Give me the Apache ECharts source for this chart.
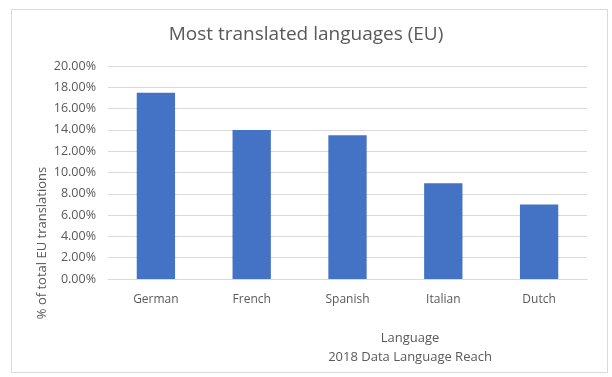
<!DOCTYPE html>
<html>
<head>
    <meta charset="utf-8">
    <title>Most translated languages (EU)</title>
    <script src="https://cdn.jsdelivr.net/npm/echarts@6/dist/echarts.min.js"></script>
    <style>
        html, body { margin: 0; padding: 0; background: #fff; }
        #container { width: 612px; height: 377px; }
    </style>
</head>
<body>
<div id="container"></div>
<script>
    // data
    var languages = ['German', 'French', 'Spanish', 'Italian', 'Dutch'];
    var sharePct = [17.5, 14.0, 13.5, 9.0, 7.0];
    var yTicks = [0, 2, 4, 6, 8, 10, 12, 14, 16, 18, 20];

    var textColor = '#595959';
    var lineColor = '#d9d9d9';
    var fontName = 'Open Sans';

    var myChart = echarts.init(document.getElementById('container'));

    var option = {
        backgroundColor: '#fff',
        animation: false,
        title: {
            text: 'Most translated languages (EU)',
            left: 'center',
            top: 20,
            textStyle: { color: textColor, fontSize: 19, fontWeight: 'normal', fontFamily: fontName }
        },
        grid: { left: 108, right: 25, top: 66, bottom: 98 },
        xAxis: {
            type: 'category',
            data: languages,
            axisLine: { lineStyle: { color: lineColor } },
            axisTick: { show: false },
            axisLabel: { color: textColor, fontSize: 12, fontFamily: fontName, margin: 15 }
        },
        yAxis: {
            type: 'value',
            min: yTicks[0],
            max: yTicks[yTicks.length - 1],
            interval: yTicks[1] - yTicks[0],
            axisLine: { show: false },
            axisTick: { show: false },
            splitLine: { lineStyle: { color: lineColor } },
            axisLabel: {
                color: textColor, fontSize: 12.5, fontFamily: fontName, margin: 12,
                formatter: function (v) { return v.toFixed(2) + '%'; }
            }
        },
        series: [{
            type: 'bar',
            data: sharePct,
            barWidth: '40%',
            itemStyle: { color: '#4472C4' }
        }],
        graphic: [
            {
                type: 'rect', left: 9, top: 7, silent: true,
                shape: { width: 596, height: 363 },
                style: { fill: 'none', stroke: lineColor, lineWidth: 1 }
            },
            {
                type: 'text', x: 42, y: 243, rotation: Math.PI / 2,
                style: {
                    text: '% of total EU translations', fill: textColor,
                    font: '13px "Open Sans"', align: 'center', verticalAlign: 'middle'
                }
            },
            {
                type: 'text', x: 410, y: 338,
                style: {
                    text: 'Language', fill: textColor,
                    font: '13px "Open Sans"', align: 'center', verticalAlign: 'middle'
                }
            },
            {
                type: 'text', x: 410, y: 357,
                style: {
                    text: '2018 Data Language Reach', fill: textColor,
                    font: '13px "Open Sans"', align: 'center', verticalAlign: 'middle'
                }
            }
        ]
    };

    myChart.setOption(option);
</script>
</body>
</html>
